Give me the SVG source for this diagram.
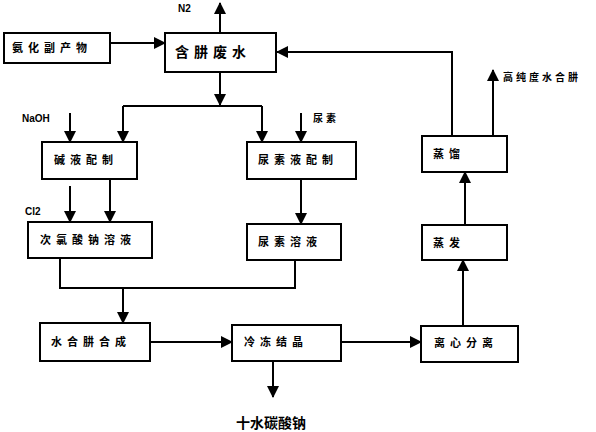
<svg xmlns="http://www.w3.org/2000/svg" width="596" height="432" viewBox="0 0 596 432">
<style>
.box{fill:#fff;stroke:#000;stroke-width:2}
.t{font-family:"Noto Sans CJK SC","Noto Sans",sans-serif;font-weight:bold;font-size:11px;letter-spacing:5px;fill:#000}
.big{font-size:14px;letter-spacing:5px}
.lab{font-family:"Liberation Sans","Noto Sans CJK SC",sans-serif;font-weight:bold;font-size:10px;fill:#000}
.c{fill:none;stroke:#000;stroke-width:2}
</style>
<defs>
<marker id="ah" markerUnits="userSpaceOnUse" markerWidth="12" markerHeight="12" viewBox="0 0 12 12" refX="11" refY="6" orient="auto">
<path d="M0,0 L12,6 L0,12 Z" fill="#000"/>
</marker>
</defs>
<rect width="596" height="432" fill="#fff"/>
<g id="connectors">
<path class="c" d="M110,43 H165" marker-end="url(#ah)"/>
<path class="c" d="M220,33 V3" marker-end="url(#ah)"/>
<path class="c" d="M452,136 V52 H277" marker-end="url(#ah)"/>
<path class="c" d="M220,72 V105" marker-end="url(#ah)"/>
<path class="c" d="M123,106 H262"/>
<path class="c" d="M123,106 V142" marker-end="url(#ah)"/>
<path class="c" d="M262,106 V142" marker-end="url(#ah)"/>
<path class="c" d="M70,113 V142" marker-end="url(#ah)"/>
<path class="c" d="M301,113 V142" marker-end="url(#ah)"/>
<path class="c" d="M70,186 V222" marker-end="url(#ah)"/>
<path class="c" d="M110,178 V222" marker-end="url(#ah)"/>
<path class="c" d="M301,178 V224" marker-end="url(#ah)"/>
<path class="c" d="M60,258 V288 H295 V260"/>
<path class="c" d="M123,288 V323" marker-end="url(#ah)"/>
<path class="c" d="M150,342 H232" marker-end="url(#ah)"/>
<path class="c" d="M273,361 V397" marker-end="url(#ah)"/>
<path class="c" d="M341,342 H421" marker-end="url(#ah)"/>
<path class="c" d="M463,325 V260" marker-end="url(#ah)"/>
<path class="c" d="M465,225 V172" marker-end="url(#ah)"/>
<path class="c" d="M493,136 V70" marker-end="url(#ah)"/>
</g>
<g id="labels">
<text class="lab" x="178" y="12">N2</text>
<text class="lab" x="22" y="122">NaOH</text>
<text class="lab" x="25" y="215">Cl2</text>
<text class="t" x="313" y="122" style="font-size:10px;letter-spacing:3px">尿素</text>
<text class="t" x="503" y="81" style="font-size:10px;letter-spacing:3px">高纯度水合肼</text>
<text class="t big" x="236" y="428" style="letter-spacing:0">十水碳酸钠</text>
</g>
<g id="n1"><rect class="box" x="4" y="33" width="106" height="30"/><text class="t" x="12" y="52">氨化副产物</text></g>
<g id="n2"><rect class="box" x="165" y="33" width="111" height="39"/><text class="t big" x="175" y="57">含肼废水</text></g>
<g id="n3"><rect class="box" x="42" y="142" width="95" height="37"/><text class="t" x="54" y="164">碱液配制</text></g>
<g id="n4"><rect class="box" x="247" y="142" width="109" height="37"/><text class="t" x="258" y="164">尿素液配制</text></g>
<g id="n5"><rect class="box" x="28" y="222" width="124" height="36"/><text class="t" x="40" y="244">次氯酸钠溶液</text></g>
<g id="n6"><rect class="box" x="247" y="224" width="94" height="36"/><text class="t" x="258" y="246">尿素溶液</text></g>
<g id="n7"><rect class="box" x="422" y="136" width="85" height="36"/><text class="t" x="433" y="158">蒸馏</text></g>
<g id="n8"><rect class="box" x="422" y="225" width="85" height="35"/><text class="t" x="433" y="247">蒸发</text></g>
<g id="n9"><rect class="box" x="40" y="323" width="110" height="38"/><text class="t" x="51" y="346">水合肼合成</text></g>
<g id="n10"><rect class="box" x="232" y="325" width="109" height="36"/><text class="t" x="244" y="346">冷冻结晶</text></g>
<g id="n11"><rect class="box" x="421" y="326" width="97" height="36"/><text class="t" x="434" y="347">离心分离</text></g>
</svg>
